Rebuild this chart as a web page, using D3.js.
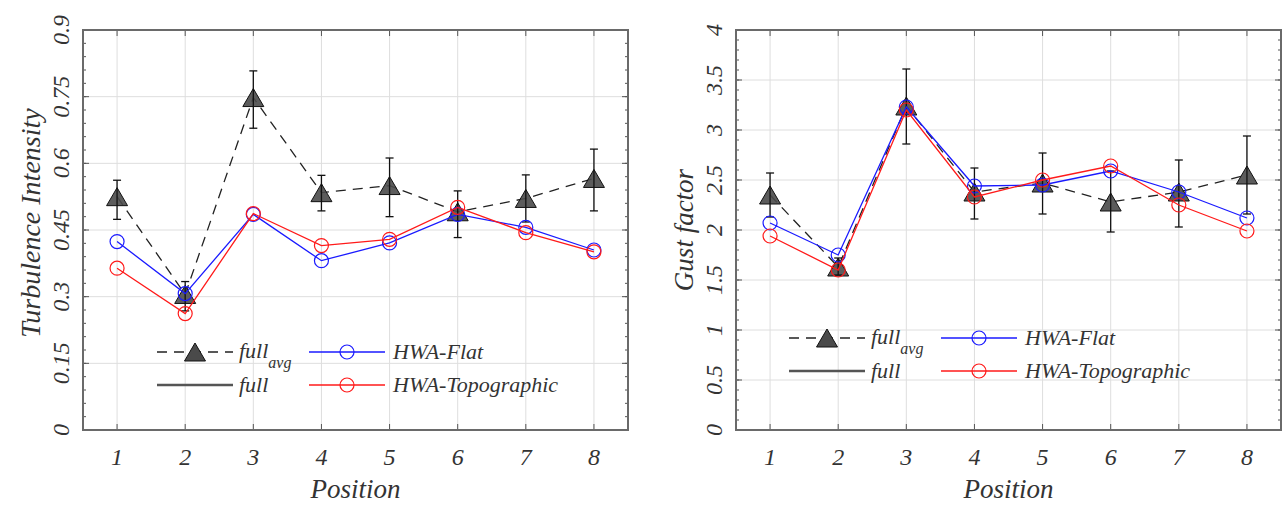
<!DOCTYPE html>
<html><head><meta charset="utf-8">
<script src="https://cdn.jsdelivr.net/npm/d3@7"></script>
</head><body style="margin:0">
<svg id="c" width="1285" height="506"></svg>
<script>
const positions = [1, 2, 3, 4, 5, 6, 7, 8];

// Turbulence intensity panel
const tiFullAvg = [0.525, 0.305, 0.748, 0.534, 0.550, 0.491, 0.521, 0.566];
const tiFullLo  = [0.474, 0.268, 0.679, 0.493, 0.480, 0.433, 0.468, 0.493];
const tiFullHi  = [0.562, 0.334, 0.808, 0.573, 0.612, 0.538, 0.574, 0.632];
const tiFlat    = [0.424, 0.307, 0.485, 0.381, 0.421, 0.485, 0.456, 0.405];
const tiTopo    = [0.364, 0.262, 0.487, 0.415, 0.429, 0.501, 0.444, 0.401];
const tiTicks   = [0, 0.15, 0.3, 0.45, 0.6, 0.75, 0.9];
const tiTickLabels = ["0", "0.15", "0.3", "0.45", "0.6", "0.75", "0.9"];

// Gust factor panel
const gfFullAvg = [2.35, 1.63, 3.24, 2.38, 2.47, 2.28, 2.38, 2.55];
const gfFullLo  = [2.13, 1.55, 2.86, 2.11, 2.16, 1.98, 2.03, 2.16];
const gfFullHi  = [2.57, 1.72, 3.61, 2.62, 2.77, 2.59, 2.70, 2.94];
const gfFlat    = [2.07, 1.75, 3.23, 2.44, 2.45, 2.59, 2.38, 2.12];
const gfTopo    = [1.94, 1.60, 3.20, 2.33, 2.50, 2.64, 2.25, 1.99];
const gfTicks   = [0, 0.5, 1, 1.5, 2, 2.5, 3, 3.5, 4];
const gfTickLabels = ["0", "0.5", "1", "1.5", "2", "2.5", "3", "3.5", "4"];

const legendLabels = ["full", "full", "HWA-Flat", "HWA-Topographic"];

const FONT = "'Liberation Serif'";
const svg = d3.select("#c");
svg.append("rect").attr("width", 1285).attr("height", 506).attr("fill", "#fff");

function txt(sel, size) {
  return sel.attr("font-family", FONT).attr("font-style", "italic").attr("font-size", size)
    .attr("fill", "#333");
}

function panel(cfg) {
  const g = svg.append("g");
  const x = d3.scaleLinear().domain([0.5, 8.5]).range([cfg.left, cfg.left + 545]);
  const y = d3.scaleLinear().domain(cfg.domain).range([430, 30]);
  const top = 30, bottom = 430, L = cfg.left, R = cfg.left + 545;

  // grid
  g.append("g").selectAll("line").data(cfg.ticks).join("line")
    .attr("x1", L).attr("x2", R).attr("y1", d => y(d)).attr("y2", d => y(d))
    .attr("stroke", "#dedede").attr("stroke-width", 1);
  g.append("g").selectAll("line").data(positions).join("line")
    .attr("y1", top).attr("y2", bottom).attr("x1", d => x(d)).attr("x2", d => x(d))
    .attr("stroke", "#dedede").attr("stroke-width", 1);

  // minor / major ticks (inward, both sides)
  const minor = d3.range(cfg.domain[0], cfg.domain[1] + 1e-9, cfg.minor);
  const tk = g.append("g").attr("stroke", "#555").attr("stroke-width", 1);
  minor.forEach(v => {
    tk.append("line").attr("x1", L).attr("x2", L + 3).attr("y1", y(v)).attr("y2", y(v));
    tk.append("line").attr("x1", R).attr("x2", R - 3).attr("y1", y(v)).attr("y2", y(v));
  });
  cfg.ticks.forEach(v => {
    tk.append("line").attr("x1", L).attr("x2", L + 6).attr("y1", y(v)).attr("y2", y(v));
    tk.append("line").attr("x1", R).attr("x2", R - 6).attr("y1", y(v)).attr("y2", y(v));
  });
  positions.forEach(p => {
    tk.append("line").attr("x1", x(p)).attr("x2", x(p)).attr("y1", top).attr("y2", top + 6);
    tk.append("line").attr("x1", x(p)).attr("x2", x(p)).attr("y1", bottom).attr("y2", bottom - 6);
  });

  // frame
  g.append("rect").attr("x", L).attr("y", top).attr("width", R - L).attr("height", bottom - top)
    .attr("fill", "none").attr("stroke", "#6a6a6a").attr("stroke-width", 2);

  // tick labels
  txt(g.append("g").selectAll("text").data(positions).join("text")
    .attr("x", d => x(d)).attr("y", 465).attr("text-anchor", "middle"), 24).text(d => d);
  txt(g.append("g").selectAll("text").data(cfg.ticks).join("text")
    .attr("transform", d => `translate(${L - 14},${y(d)}) rotate(-90)`)
    .attr("text-anchor", "middle"), 24)
    .text((d, i) => cfg.tickLabels[i]);

  // axis titles
  txt(g.append("text").attr("x", (L + R) / 2).attr("y", 498).attr("text-anchor", "middle"), 27).text("Position");
  txt(g.append("text").attr("transform", `translate(${L - 43},${cfg.titleY}) rotate(-90)`)
    .attr("text-anchor", "middle"), cfg.titleSize).text(cfg.title);

  // full_avg dashed line
  const idx = positions.map((p, i) => i);
  const line = d3.line().x(i => x(positions[i]));
  g.append("path").attr("d", line.y(i => y(cfg.avg[i]))(idx))
    .attr("fill", "none").attr("stroke", "#222").attr("stroke-width", 1.3).attr("stroke-dasharray", "10,7");
  const tri = "M0,-9L10.5,9L-10.5,9Z";
  g.append("g").selectAll("path").data(idx).join("path")
    .attr("d", tri).attr("transform", i => `translate(${x(positions[i])},${y(cfg.avg[i])})`)
    .attr("fill", "#4a4a4a").attr("fill-opacity", 0.9).attr("stroke", "#111").attr("stroke-width", 1);
  // error bars
  const eb = g.append("g").attr("stroke", "#111").attr("stroke-width", 1.3);
  idx.forEach(i => {
    const px = x(positions[i]);
    eb.append("line").attr("x1", px).attr("x2", px).attr("y1", y(cfg.lo[i])).attr("y2", y(cfg.hi[i]));
    eb.append("line").attr("x1", px - 4).attr("x2", px + 4).attr("y1", y(cfg.lo[i])).attr("y2", y(cfg.lo[i]));
    eb.append("line").attr("x1", px - 4).attr("x2", px + 4).attr("y1", y(cfg.hi[i])).attr("y2", y(cfg.hi[i]));
  });

  // HWA series
  [[cfg.flat, "#1a1aff"], [cfg.topo, "#ff1a1a"]].forEach(([vals, col]) => {
    g.append("path").attr("d", line.y(i => y(vals[i]))(idx))
      .attr("fill", "none").attr("stroke", col).attr("stroke-width", 1.3);
    g.append("g").selectAll("circle").data(idx).join("circle")
      .attr("cx", i => x(positions[i])).attr("cy", i => y(vals[i])).attr("r", 7)
      .attr("fill", "none").attr("stroke", col).attr("stroke-width", 1.2);
  });

  // legend
  const lx = cfg.legX, ly1 = cfg.legY, ly2 = cfg.legY + 33;
  const lg = g.append("g");
  lg.append("line").attr("x1", lx).attr("x2", lx + 76).attr("y1", ly1).attr("y2", ly1)
    .attr("stroke", "#222").attr("stroke-width", 1.3).attr("stroke-dasharray", "10,7");
  lg.append("path").attr("d", tri).attr("transform", `translate(${lx + 38},${ly1})`)
    .attr("fill", "#4a4a4a").attr("stroke", "#111");
  const t1 = txt(lg.append("text").attr("x", lx + 82).attr("y", ly1 + 6), 22);
  t1.append("tspan").text(legendLabels[0]);
  t1.append("tspan").attr("font-size", 16).attr("dy", 10).text("avg");
  lg.append("line").attr("x1", lx).attr("x2", lx + 76).attr("y1", ly2).attr("y2", ly2)
    .attr("stroke", "#555").attr("stroke-width", 2.5);
  txt(lg.append("text").attr("x", lx + 82).attr("y", ly2 + 7), 22).text(legendLabels[1]);
  [[ly1, "#1a1aff", legendLabels[2]], [ly2, "#ff1a1a", legendLabels[3]]].forEach(([yy, col, lab]) => {
    lg.append("line").attr("x1", lx + 152).attr("x2", lx + 228).attr("y1", yy).attr("y2", yy)
      .attr("stroke", col).attr("stroke-width", 1.3);
    lg.append("circle").attr("cx", lx + 190).attr("cy", yy).attr("r", 7)
      .attr("fill", "none").attr("stroke", col).attr("stroke-width", 1.2);
    txt(lg.append("text").attr("x", lx + 236).attr("y", yy + 7), 22).text(lab);
  });
}

panel({left: 83, domain: [0, 0.9], ticks: tiTicks, tickLabels: tiTickLabels, minor: 0.03,
  avg: tiFullAvg, lo: tiFullLo, hi: tiFullHi, flat: tiFlat, topo: tiTopo,
  title: "Turbulence Intensity", titleY: 223, titleSize: 28, legX: 157, legY: 352});
panel({left: 736, domain: [0, 4], ticks: gfTicks, tickLabels: gfTickLabels, minor: 0.1,
  avg: gfFullAvg, lo: gfFullLo, hi: gfFullHi, flat: gfFlat, topo: gfTopo,
  title: "Gust factor", titleY: 230, titleSize: 27, legX: 789, legY: 338});
</script></body></html>
